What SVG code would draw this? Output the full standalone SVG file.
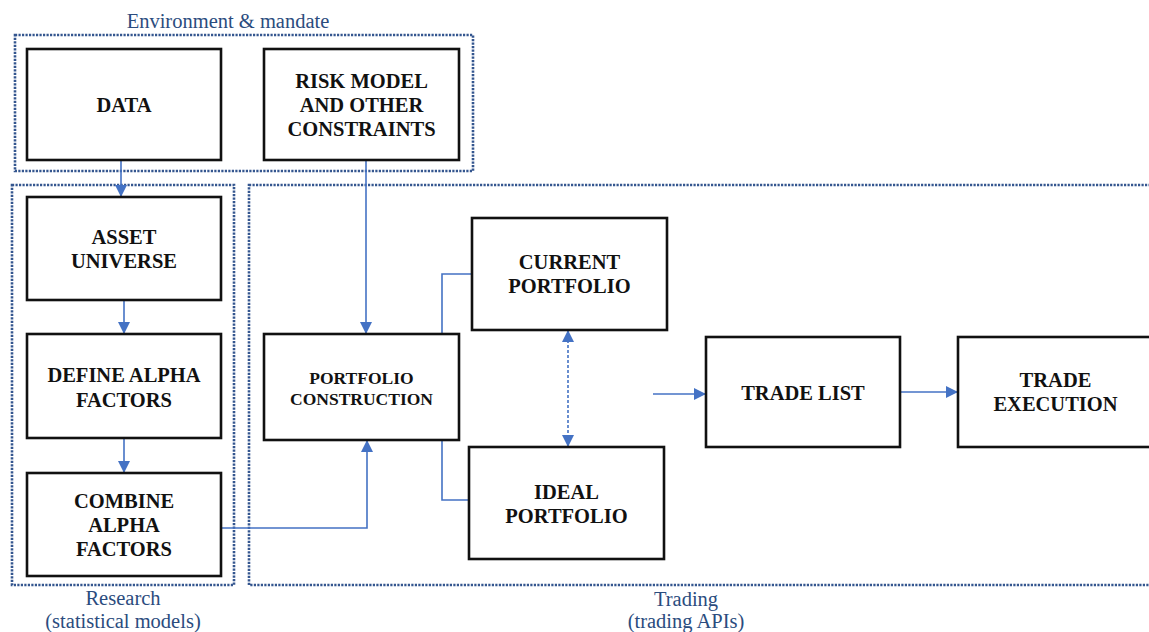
<svg xmlns="http://www.w3.org/2000/svg" width="1149" height="632" viewBox="0 0 1149 632">
<style>
.grp{fill:none;stroke:#34568F;stroke-width:2.6;stroke-dasharray:2.2 1.3}
.box{fill:#fff;stroke:#111;stroke-width:2.6}
.t{font-family:"Liberation Serif","Times New Roman",serif;font-weight:bold;font-size:20.5px;fill:#111;text-anchor:middle}
.ts{font-size:17.5px}
.lab{font-family:"Liberation Serif","Times New Roman",serif;font-size:20.5px;fill:#2B4C7E;text-anchor:middle}
.c{fill:none;stroke:#4472C4;stroke-width:1.6}
.d{stroke-dasharray:3 2}
</style>
<defs>
<marker id="ah" viewBox="0 0 12 12" refX="12" refY="6" markerWidth="12" markerHeight="12" markerUnits="userSpaceOnUse" orient="auto-start-reverse">
<path d="M0,0 L12,6 L0,12 Z" fill="#4472C4"/>
</marker>
</defs>
<rect width="1149" height="632" fill="#fff"/>
<g id="groups">
<rect class="grp" x="15" y="35" width="458" height="136"/>
<rect class="grp" x="12" y="185" width="222" height="400"/>
<rect class="grp" x="249" y="185" width="920" height="400"/>
<text class="lab" x="228" y="28">Environment &amp; mandate</text>
<text class="lab" x="123" y="605">Research</text>
<text class="lab" x="123" y="628">(statistical models)</text>
<text class="lab" x="686" y="606">Trading</text>
<text class="lab" x="686" y="628">(trading APIs)</text>
</g>
<g id="connectors">
<line class="c" x1="121" y1="160" x2="121" y2="197" marker-end="url(#ah)"/>
<line class="c" x1="124" y1="300" x2="124" y2="334" marker-end="url(#ah)"/>
<line class="c" x1="124" y1="438" x2="124" y2="473" marker-end="url(#ah)"/>
<line class="c" x1="366" y1="160" x2="366" y2="334" marker-end="url(#ah)"/>
<polyline class="c" points="221,528 367,528 367,440" marker-end="url(#ah)"/>
<polyline class="c" points="413,334 442,334 442,274 472,274"/>
<polyline class="c" points="413,440 442,440 442,500 469,500"/>
<line class="c d" x1="568" y1="330" x2="568" y2="447" marker-start="url(#ah)" marker-end="url(#ah)"/>
<line class="c" x1="653" y1="394" x2="706" y2="394" marker-end="url(#ah)"/>
<line class="c" x1="900" y1="392" x2="958" y2="392" marker-end="url(#ah)"/>
</g>
<g id="data"><rect class="box" x="27" y="49" width="194" height="111"/><text class="t" x="124" y="112">DATA</text></g>
<g id="risk"><rect class="box" x="264" y="49" width="195" height="111"/><text class="t" x="361.5" y="88">RISK MODEL</text><text class="t" x="361.5" y="112">AND OTHER</text><text class="t" x="361.5" y="136">CONSTRAINTS</text></g>
<g id="asset"><rect class="box" x="27" y="197" width="194" height="103"/><text class="t" x="124" y="244">ASSET</text><text class="t" x="124" y="268">UNIVERSE</text></g>
<g id="define"><rect class="box" x="27" y="334" width="194" height="104"/><text class="t" x="124" y="382">DEFINE ALPHA</text><text class="t" x="124" y="407">FACTORS</text></g>
<g id="combine"><rect class="box" x="27" y="473" width="194" height="103"/><text class="t" x="124" y="508">COMBINE</text><text class="t" x="124" y="532">ALPHA</text><text class="t" x="124" y="556">FACTORS</text></g>
<g id="construction"><rect class="box" x="264" y="334" width="195" height="106"/><text class="t ts" x="361.5" y="384">PORTFOLIO</text><text class="t ts" x="361.5" y="405">CONSTRUCTION</text></g>
<g id="current"><rect class="box" x="472" y="218" width="195" height="112"/><text class="t" x="569.5" y="269">CURRENT</text><text class="t" x="569.5" y="293">PORTFOLIO</text></g>
<g id="ideal"><rect class="box" x="469" y="447" width="195" height="112"/><text class="t" x="566.5" y="499">IDEAL</text><text class="t" x="566.5" y="523">PORTFOLIO</text></g>
<g id="tradelist"><rect class="box" x="706" y="337" width="194" height="110"/><text class="t" x="803" y="400">TRADE LIST</text></g>
<g id="execution"><rect class="box" x="958" y="337" width="195" height="110"/><text class="t" x="1055.5" y="387">TRADE</text><text class="t" x="1055.5" y="411">EXECUTION</text></g>
</svg>
